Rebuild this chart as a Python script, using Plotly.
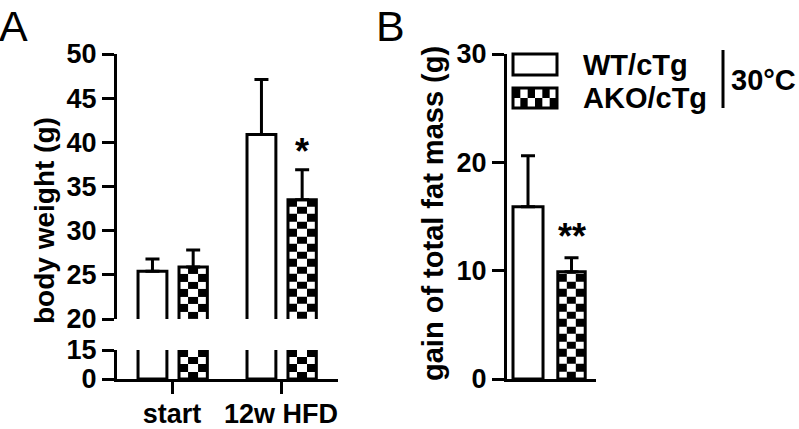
import numpy as np
import plotly.graph_objects as go

# ---- data ----
categories_A = ["start", "12w HFD"]
wt_body = [25.4, 40.9]
wt_body_sd = [1.4, 6.2]
ako_body = [25.9, 33.5]
ako_body_sd = [1.9, 3.4]

groups_B = ["WT/cTg", "AKO/cTg"]
fat_gain = [15.9, 9.9]
fat_gain_sd = [4.7, 1.3]

sig_A = ["", "*"]
sig_B = ["", "**"]

# ---- layout helpers (pixel -> paper) ----
W, H = 799, 429
FONT = "Liberation Sans, Arial, sans-serif"


def px(x):
    return x / W


def py(y):
    return 1 - y / H


# panel A geometry
A_X0, A_X1 = 117, 338
A_LOW = (379, 350)     # y pixels bottom/top of 0..15 segment
A_UP = (319, 54)       # y pixels bottom/top of 20..50 segment
A_XRANGE = [-0.505, 1.523]
A_LOW_RANGE = [0, 15]
A_UP_RANGE = [20, 50]
# panel B geometry
B_X0, B_X1 = 507, 596
B_Y = (379, 54)
B_XRANGE = [-0.483, 1.563]
B_RANGE = [0, 30]

CELL_PX = 7.5
WT_OFF, WT_W = -0.312, 0.265
AKO_OFF, AKO_W = 0.064, 0.26
B_W = [0.69, 0.63]


def cell_units(ypix, yrange):
    return CELL_PX * (yrange[1] - yrange[0]) / (ypix[0] - ypix[1])


def checker(x0, x1, y0, y1, cell, ncols=3):
    ys = list(np.arange(y0, y1, cell))
    if len(ys) > 1 and (y1 - ys[-1]) < 0.3 * cell:
        ys = ys[:-1]
    ys = ys + [y1]
    xs = list(np.linspace(x0, x1, ncols + 1))
    z = [[(i + j) % 2 for j in range(ncols)] for i in range(len(ys) - 1)]
    return xs, ys, z


def checker_trace(xs, ys, z, xa, ya):
    return go.Heatmap(x=xs, y=ys, z=z, xaxis=xa, yaxis=ya, zmin=0, zmax=1,
                      colorscale=[[0, "white"], [1, "black"]], showscale=False,
                      hoverinfo="skip")


fig = go.Figure()
xa_pos = list(range(len(categories_A)))
xb_pos = list(range(len(groups_B)))

# checker fill for AKO bars (panel A, both segments)
for i, v in enumerate(ako_body):
    x0 = xa_pos[i] + AKO_OFF
    x1 = x0 + AKO_W
    xs, ys, z = checker(x0, x1, A_LOW_RANGE[0], min(v, A_LOW_RANGE[1]),
                        cell_units(A_LOW, A_LOW_RANGE))
    fig.add_trace(checker_trace(xs, ys, z, "x", "y"))
    xs, ys, z = checker(x0, x1, A_UP_RANGE[0], v, cell_units(A_UP, A_UP_RANGE))
    fig.add_trace(checker_trace(xs, ys, z, "x", "y2"))

# checker fill for AKO bar (panel B)
x0 = xb_pos[1] - B_W[1] / 2
xs, ys, z = checker(x0, x0 + B_W[1], 0, fat_gain[1], cell_units(B_Y, B_RANGE))
fig.add_trace(checker_trace(xs, ys, z, "x3", "y3"))

bar_line = dict(color="black", width=3)
err = lambda sd: dict(type="data", array=sd, arrayminus=[0] * len(sd),
                      symmetric=False, color="black", thickness=3, width=7)

for ya in ["y", "y2"]:
    fig.add_trace(go.Bar(x=xa_pos, y=wt_body, offset=WT_OFF, width=WT_W,
                         marker=dict(color="white", line=bar_line),
                         error_y=err(wt_body_sd) if ya == "y2" else None,
                         xaxis="x", yaxis=ya, name="WT/cTg"))
    fig.add_trace(go.Bar(x=xa_pos, y=ako_body, offset=AKO_OFF, width=AKO_W,
                         marker=dict(color="rgba(0,0,0,0)", line=bar_line),
                         error_y=err(ako_body_sd) if ya == "y2" else None,
                         xaxis="x", yaxis=ya, name="AKO/cTg"))

fig.add_trace(go.Bar(x=xb_pos, y=fat_gain, width=B_W,
                     marker=dict(color=["white", "rgba(0,0,0,0)"], line=bar_line),
                     error_y=err(fat_gain_sd), xaxis="x3", yaxis="y3"))

axis_common = dict(showline=True, linewidth=3, linecolor="black", ticks="outside",
                   ticklen=12, tickwidth=3, tickcolor="black", showgrid=False,
                   zeroline=False, fixedrange=True,
                   tickfont=dict(family=FONT, size=27, color="black", weight="bold"))

fig.update_layout(
    width=W, height=H, margin=dict(l=0, r=0, t=0, b=0, autoexpand=False),
    plot_bgcolor="white", paper_bgcolor="white", showlegend=False,
    barmode="overlay",
    xaxis=dict(axis_common, domain=[px(A_X0), px(A_X1)], range=A_XRANGE, anchor="y",
               tickvals=xa_pos, ticktext=categories_A, ticklabelstandoff=-3),
    yaxis=dict(axis_common, domain=[py(A_LOW[0]), py(A_LOW[1])], range=A_LOW_RANGE,
               tickvals=[0, 15], anchor="x"),
    yaxis2=dict(axis_common, domain=[py(A_UP[0]), py(A_UP[1])], range=A_UP_RANGE,
                dtick=5, anchor="x"),
    xaxis3=dict(axis_common, domain=[px(B_X0), px(B_X1)], range=B_XRANGE, anchor="y3",
                ticks="", showticklabels=False),
    yaxis3=dict(axis_common, domain=[py(B_Y[0]), py(B_Y[1])], range=B_RANGE,
                dtick=10, anchor="x3"),
)

bold = dict(family=FONT, size=28, color="black", weight="bold")
star = dict(bold, size=36)
ann = []
# significance marks
for i, s in enumerate(sig_A):
    if s:
        ann.append(dict(x=xa_pos[i] + AKO_OFF + AKO_W / 2, y=ako_body[i] + ako_body_sd[i],
                        xref="x", yref="y2", text=s, showarrow=False, yanchor="bottom",
                        xanchor="center", yshift=-4, font=star))
for i, s in enumerate(sig_B):
    if s:
        ann.append(dict(x=xb_pos[i], y=fat_gain[i] + fat_gain_sd[i], xref="x3", yref="y3",
                        text=s, showarrow=False, yanchor="bottom", xanchor="center",
                        yshift=-1, font=star))


def label(x, y, text, font, xanchor="center", angle=0, yanchor="middle"):
    return dict(x=px(x), y=py(y), xref="paper", yref="paper", text=text,
                xanchor=xanchor, yanchor=yanchor, textangle=angle,
                showarrow=False, font=font)


# axis titles
ann.append(label(44, 221, "body weight (g)", bold, angle=-90))
ann.append(label(433, 214, "gain of total fat mass (g)", dict(bold, size=29), angle=-90))
# panel letters
letter = dict(family=FONT, size=43, color="black")
ann.append(label(-3, 0, "A", letter, xanchor="left", yanchor="top"))
ann.append(label(374, 0, "B", letter, xanchor="left", yanchor="top"))
# legend text
legend_font = dict(bold, size=29)
ann.append(label(581, 65, groups_B[0], legend_font, xanchor="left"))
ann.append(label(581, 98, groups_B[1], legend_font, xanchor="left"))
ann.append(label(729, 80, "30°C", dict(bold, size=29), xanchor="left"))

shapes = []
# legend swatches
LX0, LX1 = 513, 557
for r in range(2):
    for c in range(6):
        if (r + c) % 2 == 0:
            cx0 = LX0 + c * (LX1 - LX0) / 6
            cy0 = 88 + r * 10
            shapes.append(dict(type="rect", xref="paper", yref="paper",
                               x0=px(cx0), x1=px(cx0 + (LX1 - LX0) / 6),
                               y0=py(cy0), y1=py(cy0 + 10),
                               fillcolor="black", line=dict(width=0)))
shapes.append(dict(type="rect", xref="paper", yref="paper", x0=px(LX0), x1=px(LX1),
                   y0=py(54), y1=py(75), line=dict(color="black", width=3)))
shapes.append(dict(type="rect", xref="paper", yref="paper", x0=px(LX0), x1=px(LX1),
                   y0=py(88), y1=py(108), line=dict(color="black", width=3)))
shapes.append(dict(type="line", xref="paper", yref="paper", x0=px(723), x1=px(723),
                   y0=py(50), y1=py(108), line=dict(color="black", width=3)))

fig.update_layout(annotations=ann, shapes=shapes)

# drop the browser's default body margin so the figure sits at the window origin
fig.write_html("out.html", config={"displayModeBar": False},
               post_script="document.body.style.margin = '0px';")
